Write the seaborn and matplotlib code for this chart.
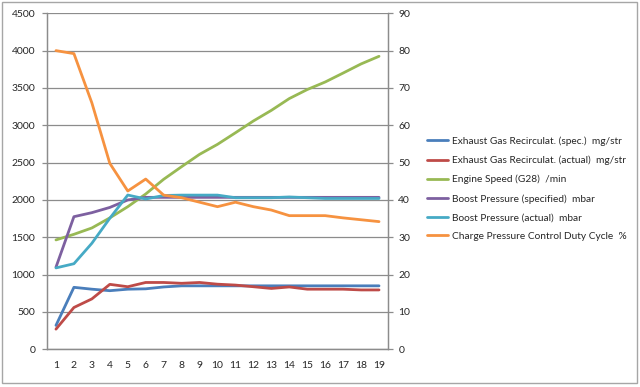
import matplotlib
matplotlib.use("Agg")
import matplotlib.pyplot as plt
import matplotlib.patches as mpatches
import seaborn as sns
import pandas as pd
import numpy as np

samples = list(range(1, 20))

egr_spec = [320, 830, 805, 785, 805, 810, 835, 850, 850, 850, 850, 850, 850, 850, 850, 850, 850, 850, 850]
egr_actual = [270, 560, 675, 870, 838, 895, 895, 884, 895, 872, 860, 838, 815, 835, 805, 805, 805, 795, 795]
engine_speed = [1465, 1540, 1625, 1760, 1910, 2080, 2277, 2446, 2611, 2745, 2900, 3058, 3200, 3358, 3479, 3580, 3700, 3822, 3924]
boost_spec = [1100, 1776, 1830, 1900, 2000, 2035, 2035, 2035, 2035, 2035, 2035, 2035, 2035, 2035, 2035, 2035, 2035, 2035, 2035]
boost_actual = [1090, 1146, 1420, 1755, 2066, 2013, 2060, 2065, 2065, 2065, 2030, 2030, 2030, 2040, 2030, 2020, 2020, 2020, 2020]
duty_cycle = [80.0, 79.2, 66.0, 49.8, 42.4, 45.6, 41.3, 40.6, 39.4, 38.2, 39.4, 38.2, 37.3, 35.8, 35.8, 35.8, 35.2, 34.7, 34.2]

names = [
    "Exhaust Gas Recirculat. (spec.)  mg/str",
    "Exhaust Gas Recirculat. (actual)  mg/str",
    "Engine Speed (G28)  /min",
    "Boost Pressure (specified)  mbar",
    "Boost Pressure (actual)  mbar",
    "Charge Pressure Control Duty Cycle  %",
]
colors = ["#4A7EBB", "#BE4B48", "#98B954", "#7D60A0", "#46AAC5", "#F69240"]

left_ticks = list(range(0, 4501, 500))
right_ticks = list(range(0, 91, 10))

sns.set_style("white")
plt.rcParams["font.family"] = ["Lato", "DejaVu Sans"]

fig = plt.figure(figsize=(6.4, 3.87), dpi=100)
ax = fig.add_axes([47 / 640, 1 - 349.3 / 387, (388 - 47) / 640, (349.3 - 13.3) / 387])

primary = pd.DataFrame({
    "x": samples * 5,
    "value": egr_spec + egr_actual + engine_speed + boost_spec + boost_actual,
    "series": sum([[n] * len(samples) for n in names[:5]], []),
})
sns.lineplot(data=primary, x="x", y="value", hue="series", hue_order=names[:5],
             palette=colors[:5], linewidth=2.0, ax=ax, legend=False, sort=False)

ax2 = ax.twinx()
secondary = pd.DataFrame({"x": samples, "value": duty_cycle})
sns.lineplot(data=secondary, x="x", y="value", color=colors[5], linewidth=2.0, ax=ax2, legend=False)

grid_c = "#8C8C8C"
text_c = "#262626"

ax.set_xlim(0.5, 19.5)
ax.set_ylim(0, 4500)
ax2.set_ylim(0, 90)
ax.set_yticks(left_ticks)
ax2.set_yticks(right_ticks)
ax.set_xticks(samples)
ax.set_xticks(np.arange(0.5, 20, 1), minor=True)
ax.set_xlabel("")
ax.set_ylabel("")
ax2.set_xlabel("")
ax2.set_ylabel("")

ax.yaxis.grid(True, color=grid_c, linewidth=0.9)
ax.set_axisbelow(True)
for sp in ["top"]:
    ax.spines[sp].set_visible(False)
    ax2.spines[sp].set_visible(False)
for sp in ["left", "bottom", "right"]:
    ax.spines[sp].set_color(grid_c)
    ax2.spines[sp].set_color(grid_c)
    ax.spines[sp].set_linewidth(0.9)
    ax2.spines[sp].set_linewidth(0.9)

ax.tick_params(axis="x", which="major", length=0, pad=8.5, labelsize=7.5, colors=text_c)
ax.tick_params(axis="x", which="minor", length=3.5, width=0.9, color=grid_c, direction="out")
ax.tick_params(axis="y", length=3.5, width=0.9, color=grid_c, direction="out", pad=5, labelsize=7.5, labelcolor=text_c, left=True)
ax2.tick_params(axis="y", length=3.5, width=0.9, color=grid_c, direction="out", pad=4, labelsize=7.5, labelcolor=text_c, right=True)

handles = [plt.Line2D([0], [0], color=c, linewidth=2.0) for c in colors]
fig.legend(handles, names, loc="upper left", bbox_to_anchor=(427 / 640, 1 - 136.5 / 387),
           frameon=False, fontsize=7.3, handlelength=2.05, handletextpad=0.4,
           labelspacing=0.95, borderpad=0, borderaxespad=0, labelcolor=text_c)

border = mpatches.Rectangle((2 / 640, 4 / 387), 635 / 640, 381 / 387, transform=fig.transFigure,
                            fill=False, edgecolor="#A6A6A6", linewidth=1.0)
fig.patches.append(border)

fig.savefig("out.png", dpi=100)
